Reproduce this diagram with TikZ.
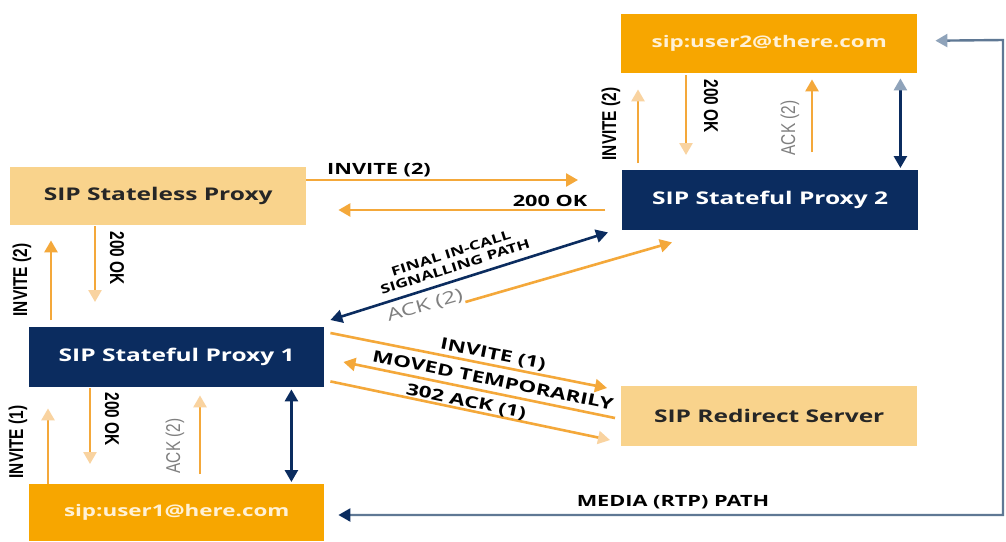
\documentclass[tikz,border=0pt]{standalone}
\usepackage{fontspec}
\setmainfont{Open Sans}
\newfontfamily\widefont[FakeStretch=1.4]{Open Sans}
\newfontfamily\narrowfont[FakeStretch=0.77]{Liberation Sans}
\usetikzlibrary{arrows.meta}
\definecolor{navy}{HTML}{0B2C5F}
\definecolor{uorange}{HTML}{F7A600}
\definecolor{lorange}{HTML}{F9D38C}
\definecolor{cream}{HTML}{FFF1D6}
\definecolor{arrc}{HTML}{F4A83A}
\definecolor{palec}{HTML}{F9D3A0}
\definecolor{labgray}{HTML}{7F7F7F}
\definecolor{lightnavy}{HTML}{8FA3BA}
\definecolor{medialine}{HTML}{5F7894}
\begin{document}
\begin{tikzpicture}[x=1pt,y=-1pt,
  box/.style={rectangle, anchor=north west, inner sep=0pt, font=\widefont\bfseries\fontsize{17.5}{20}\selectfont},
  ubox/.style={box, fill=uorange, text=cream, font=\widefont\bfseries\fontsize{16}{20}\selectfont},
  lbox/.style={box, fill=lorange, text=black!85},
  nbox/.style={box, fill=navy, text=white},
  oarr/.style={draw=arrc, line width=2.6pt, -{Triangle[length=12pt,width=13pt]}},
  parr/.style={draw=arrc, line width=2.6pt, -{Triangle[length=12pt,width=13pt,color=palec]}},
  narr/.style={draw=navy, line width=2.6pt, {Triangle[length=12pt,width=13pt]}-{Triangle[length=12pt,width=13pt]}},
  vlab/.style={font=\narrowfont\bfseries\fontsize{20}{22}\selectfont, inner sep=0pt},
  vglab/.style={font=\narrowfont\fontsize{20}{22}\selectfont, inner sep=0pt, text=labgray},
  hlab/.style={font=\widefont\bfseries\fontsize{15.5}{18}\selectfont, inner sep=0pt},
  dlab/.style={font=\widefont\bfseries\fontsize{16}{18}\selectfont, inner sep=0pt},
]
\useasboundingbox[fill=white] (0,0) rectangle (1006,541);

% boxes
\node[ubox, minimum width=296pt, minimum height=59pt] (u2) at (621,14) {sip:user2@there.com};
\node[nbox, minimum width=296pt, minimum height=60pt] (p2) at (622,170) {SIP Stateful Proxy 2};
\node[lbox, minimum width=296pt, minimum height=58pt] (sl) at (10,167) {SIP Stateless Proxy};
\node[nbox, minimum width=295pt, minimum height=60pt] (p1) at (29,327) {SIP Stateful Proxy 1};
\node[lbox, minimum width=296pt, minimum height=60pt] (rd) at (621,386) {SIP Redirect Server};
\node[ubox, minimum width=295pt, minimum height=57pt] (u1) at (29,484) {sip:user1@here.com};

% user2 <-> proxy2
\draw[parr] ([xshift=16pt,yshift=7pt]p2.north west) -- ([xshift=17pt,yshift=-16pt]u2.south west);
\draw[parr] ([xshift=65pt,yshift=-2pt]u2.south west) -- ([xshift=64pt,yshift=15pt]p2.north west);
\draw[oarr] ([xshift=190pt,yshift=18pt]p2.north west) -- ([xshift=191pt,yshift=-6pt]u2.south west);
\draw[draw=navy, line width=2.6pt, {Triangle[length=12pt,width=13pt,color=lightnavy]}-{Triangle[length=12pt,width=13pt]}]
  ([xshift=-17pt,yshift=-5pt]u2.south east) -- ([xshift=-18pt,yshift=2pt]p2.north east);
\node[vlab, rotate=90] (l1) at (611,124) {INVITE (2)};
\node[vlab, rotate=-90] (l2) at (711,106) {200 OK};
\node[vglab, rotate=90] (l3) at (790,128) {ACK (2)};

% stateless <-> proxy2
\draw[oarr] ([yshift=-13pt]sl.north east) -- ([xshift=-44pt,yshift=-10pt]p2.north west);
\draw[oarr] ([xshift=-17pt,yshift=-40pt]p2.north west) -- ([xshift=32pt,yshift=-43pt]sl.north east);
\node[hlab] (l4) at (379,170) {INVITE (2)};
\node[hlab] (l5) at (550,201) {200 OK};

% proxy1 <-> stateless
\draw[oarr] ([xshift=22pt,yshift=7pt]p1.north west) -- ([xshift=41pt,yshift=-15pt]sl.south west);
\draw[parr] ([xshift=85pt,yshift=-1pt]sl.south west) -- ([xshift=66pt,yshift=25pt]p1.north west);
\node[vlab, rotate=90] (l6) at (22,280) {INVITE (2)};
\node[vlab, rotate=-90] (l7) at (117,258) {200 OK};

% user1 <-> proxy1
\draw[parr] ([xshift=19pt]u1.north west) -- ([xshift=19pt,yshift=-21pt]p1.south west);
\draw[parr] ([xshift=61pt,yshift=-1pt]p1.south west) -- ([xshift=61pt,yshift=20pt]u1.north west);
\draw[parr] ([xshift=171pt,yshift=10pt]u1.north west) -- ([xshift=171pt,yshift=-8pt]p1.south west);
\draw[narr] ([xshift=-33pt,yshift=-2pt]p1.south east) -- ([xshift=-33pt,yshift=2pt]u1.north east);
\node[vlab, rotate=90] (l8) at (18,442) {INVITE (1)};
\node[vlab, rotate=-90] (l9) at (112,419) {200 OK};
\node[vglab, rotate=90] (l10) at (175,446) {ACK (2)};

% proxy1 <-> proxy2 diagonals
\draw[narr] ([xshift=6pt,yshift=7pt]p1.north east) -- ([xshift=-14pt,yshift=-2pt]p2.south west);
\draw[oarr] ([xshift=141pt,yshift=25pt]p1.north east) -- ([xshift=50pt,yshift=-12pt]p2.south west);
\node[font=\widefont\bfseries\fontsize{12.5}{14}\selectfont, align=center, inner sep=0pt, rotate=17.6] (l11) at (453,260) {FINAL IN-CALL\\SIGNALLING PATH};
\node[font=\widefont\fontsize{17}{19}\selectfont, text=labgray, inner sep=0pt, rotate=16] (l12) at (425,306) {ACK (2)};

% proxy1 <-> redirect
\draw[oarr] ([xshift=6pt,yshift=-6pt]p1.north east) -- ([xshift=-14pt,yshift=-2pt]rd.north west);
\draw[oarr] ([xshift=-6pt,yshift=-32pt]rd.north west) -- ([xshift=19pt,yshift=-35pt]p1.north east);
\draw[parr] ([xshift=6pt,yshift=6pt]p1.south east) -- ([xshift=-11pt,yshift=-54pt]rd.north west);
\node[dlab, rotate=-11.2] (l13) at (493,355) {INVITE (1)};
\node[dlab, rotate=-11.5] (l14) at (493,380) {MOVED TEMPORARILY};
\node[dlab, rotate=-11.5] (l15) at (466,402) {302 ACK (1)};

% media path
\coordinate (mc1) at (1003,40);
\coordinate (mc2) at (1003,515);
\draw[draw=medialine, line width=2.4pt, {Triangle[length=12pt,width=13pt,color=lightnavy]}-{Triangle[length=12pt,width=13pt,color=navy]}]
  ([xshift=18pt,yshift=3pt]u2.east) -- (mc1) -- (mc2) -- ([xshift=14pt,yshift=-31pt]u1.north east);
\node[hlab] (l16) at (673,502) {MEDIA (RTP) PATH};
\end{tikzpicture}
\end{document}
